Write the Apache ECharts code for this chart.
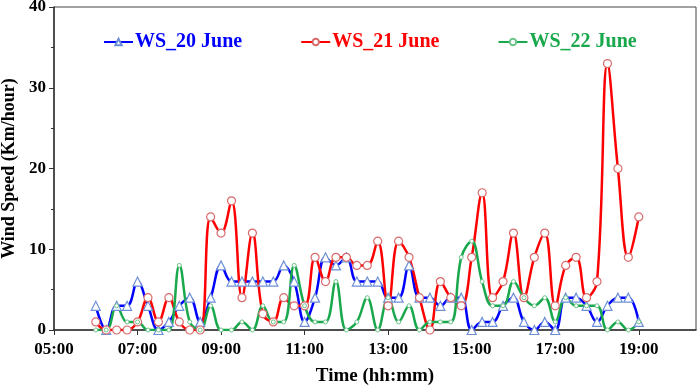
<!DOCTYPE html>
<html>
<head>
<meta charset="utf-8">
<script src="https://cdn.jsdelivr.net/npm/echarts@6/dist/echarts.min.js"></script>
<style>
  html, body { margin: 0; padding: 0; background: #fff; }
  #chart { width: 699px; height: 388px; }
</style>
</head>
<body>
<div id="chart"></div>
<script>
// sampling times, every 15 minutes
const times = [
  '06:00', '06:15', '06:30', '06:45', '07:00', '07:15', '07:30', '07:45',
  '08:00', '08:15', '08:30', '08:45', '09:00', '09:15', '09:30', '09:45',
  '10:00', '10:15', '10:30', '10:45', '11:00', '11:15', '11:30', '11:45',
  '12:00', '12:15', '12:30', '12:45', '13:00', '13:15', '13:30', '13:45',
  '14:00', '14:15', '14:30', '14:45', '15:00', '15:15', '15:30', '15:45',
  '16:00', '16:15', '16:30', '16:45', '17:00', '17:15', '17:30', '17:45',
  '18:00', '18:15', '18:30', '18:45', '19:00'
]

// wind speed, Km/hour
const ws20 = [
  3, 0, 3, 3, 6, 3, 0, 1, 3, 4, 1, 4, 8, 6, 6, 6,
  6, 6, 8, 6, 1, 4, 9, 8, 9, 6, 6, 6, 4, 4, 8, 4,
  4, 3, 4, 4, 0, 1, 1, 3, 4, 1, 0, 1, 0, 4, 4, 3,
  1, 3, 4, 4, 1
]
const ws21 = [
  1, 0, 0, 0, 1, 4, 1, 4, 1, 0, 0, 14, 12, 16, 4, 12,
  2, 1, 4, 3, 3, 9, 6, 9, 9, 8, 8, 11, 3, 11, 9, 4,
  0, 6, 4, 3, 9, 17, 4, 6, 12, 4, 9, 12, 3, 8, 9, 4,
  6, 33, 20, 9, 14
]
const ws22 = [
  0, 0, 3, 1, 1, 0, 0, 0, 8, 1, 0, 3, 0, 0, 1, 0,
  3, 1, 1, 8, 3, 1, 1, 6, 0, 1, 4, 0, 4, 1, 3, 0,
  1, 1, 1, 9, 11, 6, 3, 3, 6, 4, 3, 4, 1, 4, 3, 3,
  3, 0, 1, 0, 1
]

const xTickLabels = ['05:00', '07:00', '09:00', '11:00', '13:00', '15:00', '17:00', '19:00']
const yTickLabels = ['0', '10', '20', '30', '40']

const FONT = 'Liberation Serif'
const START_HOUR = 5

// hours since 05:00
function toHours(t) {
  const parts = t.split(':').map(Number)
  return parts[0] - START_HOUR + parts[1] / 60
}

function pairs(values) {
  return values.map((v, i) => [toHours(times[i]), v])
}

const chart = echarts.init(document.getElementById('chart'))

chart.setOption({
  animation: false,
  backgroundColor: '#fff',
  grid: {
    left: 54,
    right: 3,
    top: 7,
    bottom: 58,
    outerBoundsMode: 'none',
    show: true,
    borderColor: '#444',
    borderWidth: 1
  },
  legend: {
    left: 103,
    top: 32,
    padding: 0,
    itemWidth: 29,
    itemHeight: 8,
    itemGap: 58,
    textStyle: {
      fontFamily: FONT,
      fontWeight: 'bold',
      fontSize: 20,
      padding: [0, 0, 0, -3]
    },
    data: [
      { name: 'WS_20 June', textStyle: { color: '#0000ff' } },
      { name: 'WS_21 June', textStyle: { color: '#ff0000' } },
      { name: 'WS_22 June', textStyle: { color: '#19a84c' } }
    ]
  },
  xAxis: {
    type: 'value',
    min: 0,
    max: 15.37,
    interval: 2,
    name: 'Time (hh:mm)',
    nameLocation: 'middle',
    nameGap: 37,
    nameTextStyle: {
      fontFamily: FONT,
      fontWeight: 'bold',
      fontSize: 19,
      color: '#000'
    },
    axisLine: { lineStyle: { color: '#333', width: 1.5 } },
    axisTick: { show: true, length: 5, lineStyle: { color: '#333' } },
    splitLine: { show: false },
    axisLabel: {
      showMaxLabel: false,
      margin: 11,
      fontFamily: FONT,
      fontWeight: 'bold',
      fontSize: 17,
      color: '#000',
      formatter: v => {
        const idx = Math.round(v / 2)
        return Math.abs(v - idx * 2) < 1e-6 ? (xTickLabels[idx] || '') : ''
      }
    }
  },
  yAxis: {
    type: 'value',
    min: 0,
    max: 40,
    interval: 10,
    name: 'Wind Speed (Km/hour)',
    nameLocation: 'middle',
    nameGap: 33,
    nameTextStyle: {
      fontFamily: FONT,
      fontWeight: 'bold',
      fontSize: 18,
      color: '#000'
    },
    axisLine: { show: true, lineStyle: { color: '#333', width: 1.5 } },
    axisTick: { show: true, length: 5, lineStyle: { color: '#333' } },
    minorTick: { show: true, splitNumber: 2, length: 3, lineStyle: { color: '#333' } },
    splitLine: { show: false },
    axisLabel: {
      margin: 8,
      fontFamily: FONT,
      fontWeight: 'bold',
      fontSize: 17,
      color: '#000',
      formatter: v => yTickLabels[Math.round(v / 10)]
    }
  },
  series: [
    {
      name: 'WS_20 June',
      type: 'line',
      smooth: 0.4,
      symbol: 'triangle',
      symbolSize: 9,
      lineStyle: { color: '#0000ff', width: 2.5 },
      itemStyle: { color: '#fff', borderColor: '#6d8fd8', borderWidth: 1.2 },
      data: pairs(ws20)
    },
    {
      name: 'WS_21 June',
      type: 'line',
      smooth: 0.4,
      symbol: 'circle',
      symbolSize: 8,
      lineStyle: { color: '#ff0000', width: 2.5 },
      itemStyle: { color: '#fff', borderColor: '#d96a6c', borderWidth: 1.2 },
      data: pairs(ws21)
    },
    {
      name: 'WS_22 June',
      type: 'line',
      smooth: 0.4,
      symbol: 'circle',
      symbolSize: 4,
      lineStyle: { color: '#19a84c', width: 2.5 },
      itemStyle: { color: '#fff', borderColor: '#6cc48a', borderWidth: 1 },
      data: pairs(ws22)
    }
  ]
})
</script>
</body>
</html>
